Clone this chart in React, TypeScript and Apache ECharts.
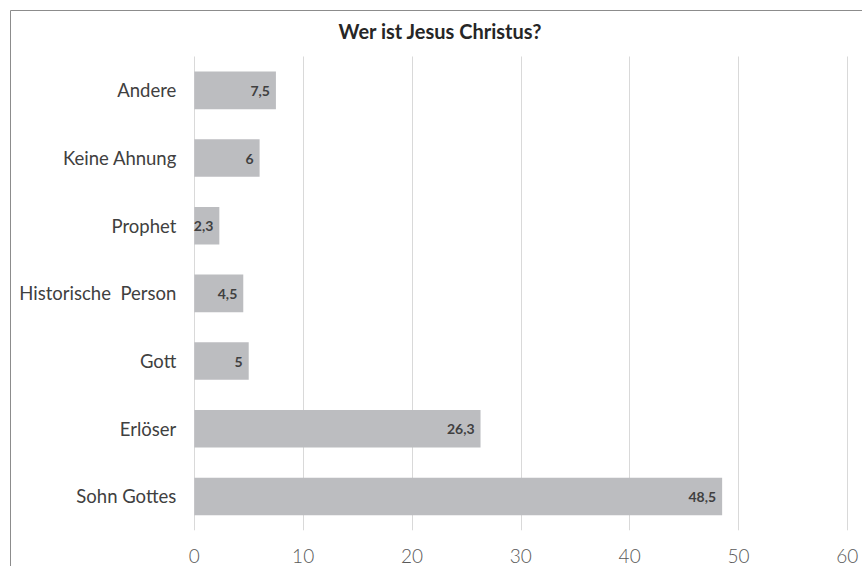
import React, { useEffect, useRef } from "react";
import * as echarts from "echarts";

const title = "Wer ist Jesus Christus?";
const categories = [
  "Sohn Gottes",
  "Erlöser",
  "Gott",
  "Historische  Person",
  "Prophet",
  "Keine Ahnung",
  "Andere",
];
const values = [48.5, 26.3, 5, 4.5, 2.3, 6, 7.5];
const xTicks = { min: 0, max: 60, interval: 10 };

export default function App() {
  const ref = useRef<HTMLDivElement>(null);
  useEffect(() => {
    if (!ref.current) return;
    const chart = echarts.init(ref.current, null, { renderer: "svg" });
    chart.setOption({
      animation: false,
      backgroundColor: "#ffffff",
      textStyle: { fontFamily: "Lato" },
      graphic: [
        {
          type: "rect",
          shape: { x: 10.5, y: 10.5, width: 900, height: 700 },
          style: { fill: "none", stroke: "#8c8c8c", lineWidth: 1 },
          silent: true,
          z: -1,
        },
        {
          type: "text",
          x: 440,
          y: 31,
          silent: true,
          style: {
            text: title,
            fontFamily: "Lato",
            fontWeight: "bold",
            fontSize: 20,
            fill: "#262626",
            align: "center",
            verticalAlign: "middle",
          },
        },
      ],
      grid: { left: 194.3, right: 14.7, top: 56.5, bottom: 35.7, containLabel: false },
      xAxis: {
        type: "value",
        min: xTicks.min,
        max: xTicks.max,
        interval: xTicks.interval,
        axisLine: { show: false },
        axisTick: { show: false },
        splitLine: { show: true, lineStyle: { color: "#d9d9d9", width: 1 } },
        axisLabel: {
          fontFamily: "Lato",
          fontWeight: 300,
          fontSize: 19,
          color: "#595959",
          margin: 16,
        },
      },
      yAxis: {
        type: "category",
        data: categories,
        axisLine: { show: false },
        axisTick: { show: false },
        splitLine: { show: false },
        axisLabel: {
          fontFamily: "Lato",
          fontSize: 18.5,
          color: "#404040",
          margin: 18,
        },
      },
      series: [
        {
          type: "bar",
          data: values,
          barWidth: "55.5%",
          itemStyle: { color: "#bcbdc0" },
          label: {
            show: true,
            position: "insideRight",
            distance: 6,
            fontFamily: "Lato",
            fontWeight: "bold",
            fontSize: 14,
            color: "#404040",
            formatter: (p: any) => String(p.value).replace(".", ","),
          },
        },
      ],
    });
    return () => chart.dispose();
  }, []);
  return (
    <div
      ref={ref}
      style={{ position: "absolute", left: 0, top: 0, width: 862, height: 566 }}
    />
  );
}
